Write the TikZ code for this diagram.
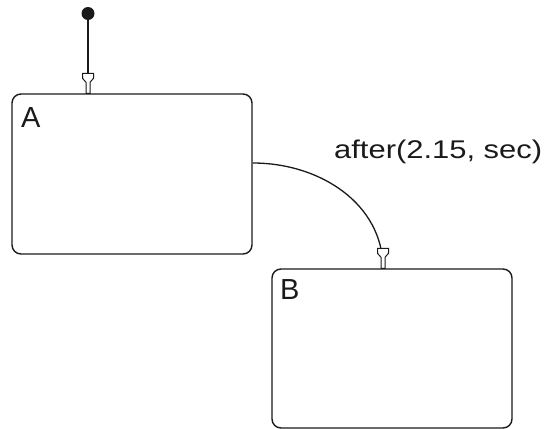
\documentclass[tikz,border=0pt]{standalone}
\usepackage{fontspec}
\setmainfont{Liberation Sans}
\definecolor{ink}{HTML}{1A1A1A}
\begin{document}
\begin{tikzpicture}[x=1pt,y=-1pt,
  statebox/.style={draw=ink, line width=1.4pt, rounded corners=9pt, inner sep=0pt},
  statelabel/.style={inner sep=0pt, anchor=base west, font=\fontsize{29}{34}\selectfont, text=ink},
  wire/.style={draw=ink, line width=1.3pt},
  sfhead/.pic={\draw[ink, fill=white, line width=1pt, line join=miter]
     (-2,0) -- (-2,-11) -- (-5.5,-15) -- (-5.5,-20) -- (5.5,-20) -- (5.5,-15) -- (2,-11) -- (2,0) -- cycle;}
]
\useasboundingbox (0,0) rectangle (547,429);
% states
\node[statebox, minimum width=240pt, minimum height=160pt] (A) at (132,174) {};
\node[statebox, minimum width=240pt, minimum height=159pt] (B) at (392,348.5) {};
\node[statelabel] (Alab) at (21,127) {A};
\node[statelabel] (Blab) at (280,299) {B};
% default transition
\node[circle, fill=ink, minimum size=13pt, inner sep=0pt] (init) at (88,13.5) {};
\coordinate (Ain) at (init |- A.north);
\draw[wire] (init.center) -- (Ain);
\pic at (Ain) {sfhead};
% transition A -> B
\coordinate (Aout) at ([yshift=11pt]A.east);
\coordinate (Bin) at ([xshift=-9pt]B.north);
\draw[wire] (Aout) .. controls ([xshift=68pt]Aout) and ([yshift=64pt]Bin) .. (Bin);
\pic at (Bin) {sfhead};
\node[inner sep=0pt, anchor=base west, text=ink] (lab) at (334,158)
  {\resizebox{208pt}{\height}{\fontsize{25.6}{30}\selectfont after(2.15, sec)}};
\end{tikzpicture}
\end{document}
